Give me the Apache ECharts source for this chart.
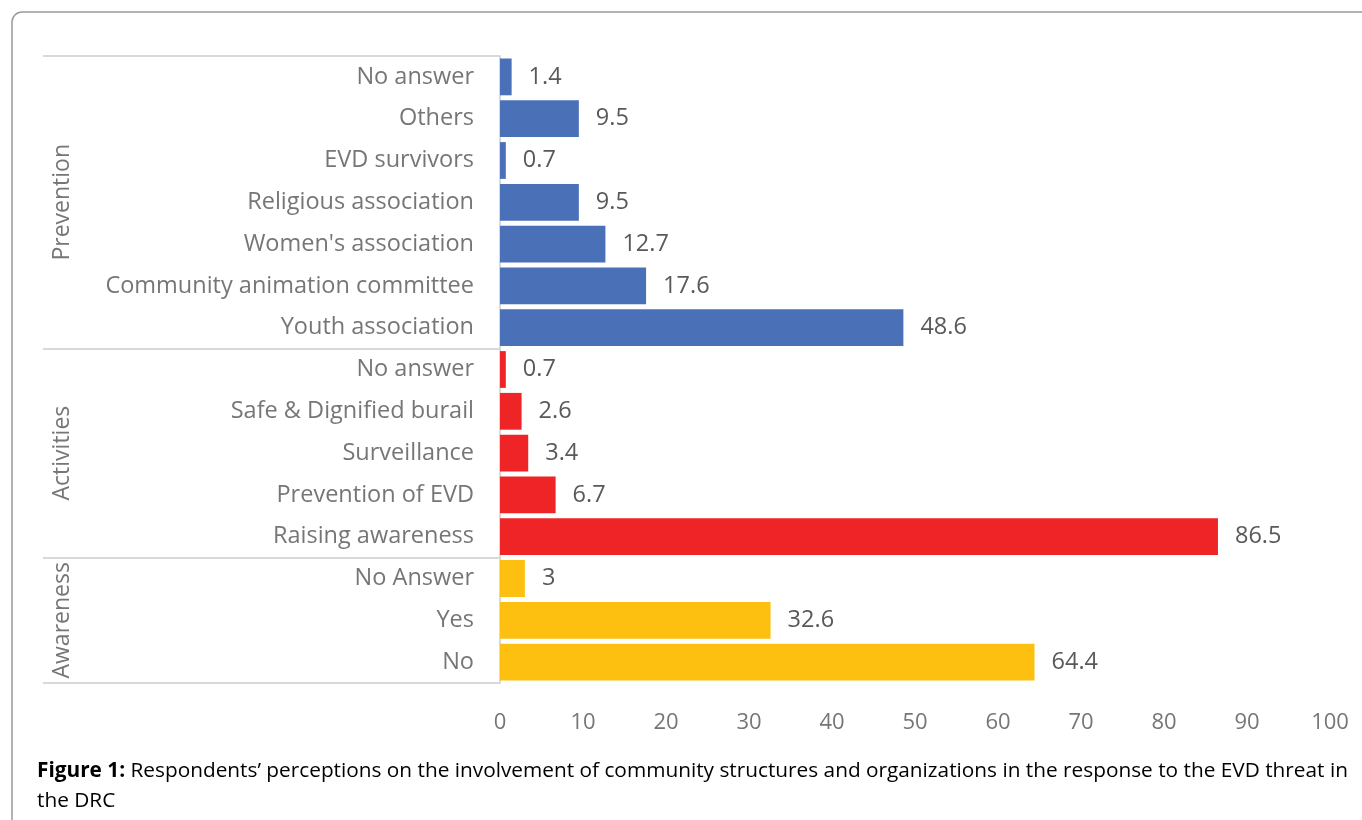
<!DOCTYPE html>
<html>
<head>
<meta charset="utf-8">
<script src="https://cdn.jsdelivr.net/npm/echarts@6/dist/echarts.min.js"></script>
<style>
html,body{margin:0;padding:0;background:#fff;}
#chart{width:1362px;height:820px;}
</style>
</head>
<body>
<div id="chart"></div>
<script>
// ---- Data ----
const groupNames = ['Prevention', 'Activities', 'Awareness'];
const preventionLabels = ['No answer', 'Others', 'EVD survivors', 'Religious association', "Women's association", 'Community animation committee', 'Youth association'];
const preventionValues = [1.4, 9.5, 0.7, 9.5, 12.7, 17.6, 48.6];
const activitiesLabels = ['No answer', 'Safe & Dignified burail', 'Surveillance', 'Prevention of EVD', 'Raising awareness'];
const activitiesValues = [0.7, 2.6, 3.4, 6.7, 86.5];
const awarenessLabels = ['No Answer', 'Yes', 'No'];
const awarenessValues = [3, 32.6, 64.4];
const groupColors = ['#4A70B8', '#EE2427', '#FDC010'];
const xTicks = [0, 10, 20, 30, 40, 50, 60, 70, 80, 90, 100];
const captionBold = 'Figure 1:';
const captionText = ' Respondents\u2019 perceptions on the involvement of community structures and organizations in the response to the EVD threat in';
const captionText2 = 'the DRC';

const groupLabels = [preventionLabels, activitiesLabels, awarenessLabels];
const groupValues = [preventionValues, activitiesValues, awarenessValues];

const categories = [];
const barData = [];
groupLabels.forEach((labels, g) => {
  labels.forEach((lab, i) => {
    categories.push(lab);
    barData.push({ value: groupValues[g][i], itemStyle: { color: groupColors[g] } });
  });
});

const chart = echarts.init(document.getElementById('chart'), null, { renderer: 'canvas' });
const FONT = '"Open Sans", "Noto Sans", sans-serif';
const TXT = '#767676';

chart.setOption({
  animation: false,
  backgroundColor: '#fff',
  textStyle: { fontFamily: FONT },
  grid: { left: 500, right: 32, top: 56, bottom: 137, containLabel: false },
  xAxis: {
    type: 'value', min: 0, max: 100, interval: 10,
    axisLine: { show: false }, axisTick: { show: false }, splitLine: { show: false },
    axisLabel: {
      margin: 29, color: TXT, fontSize: 22, fontFamily: FONT,
      formatter: v => xTicks.includes(v) ? String(v) : ''
    }
  },
  yAxis: {
    type: 'category', data: categories, inverse: true,
    axisLine: { show: true, lineStyle: { color: '#d9d9d9', width: 2 } },
    axisTick: { show: false },
    axisLabel: { margin: 26, color: TXT, fontSize: 23.5, fontFamily: FONT }
  },
  series: [{
    type: 'bar', data: barData, barCategoryGap: '12%',
    label: {
      show: true, position: 'right', distance: 17,
      color: '#595959', fontSize: 23.5, fontFamily: FONT
    }
  }]
});

// Group brackets and labels, positioned via the axis scale
const n = categories.length;
const c0 = chart.convertToPixel({ yAxisIndex: 0 }, 0);
const cN = chart.convertToPixel({ yAxisIndex: 0 }, n - 1);
const band = (cN - c0) / (n - 1);
const axisX = chart.convertToPixel({ xAxisIndex: 0 }, 0);
const edges = [];
let idx = 0;
edges.push(c0 - band / 2);
groupLabels.forEach(l => { idx += l.length; edges.push(c0 + (idx - 1) * band + band / 2); });

const graphics = [];
graphics.push({
  type: 'rect', shape: { x: 12, y: 12, width: 1400, height: 900, r: 10 },
  style: { fill: 'none', stroke: '#9a9a9a', lineWidth: 1.5 }, silent: true, z: -1
});
edges.forEach(y => {
  graphics.push({
    type: 'line', shape: { x1: 43, y1: Math.round(y), x2: axisX, y2: Math.round(y) },
    style: { stroke: '#d9d9d9', lineWidth: 2 }, silent: true
  });
});
groupNames.forEach((name, g) => {
  const mid = (edges[g] + edges[g + 1]) / 2;
  graphics.push({
    type: 'text', x: 62, y: mid, rotation: Math.PI / 2,
    style: { text: name, fill: TXT, font: '23px ' + FONT, align: 'center', verticalAlign: 'middle' },
    silent: true
  });
});
graphics.push({
  type: 'text', x: 37, y: 756,
  style: {
    text: '{b|' + captionBold + '}{r|' + captionText + '}\n{r|' + captionText2 + '}',
    rich: {
      b: { fontWeight: 'bold', fontSize: 20.8, fill: '#000', fontFamily: FONT, lineHeight: 30 },
      r: { fontSize: 20.8, fill: '#000', fontFamily: FONT, lineHeight: 30 }
    },
    verticalAlign: 'top'
  },
  silent: true
});
chart.setOption({ graphic: graphics });
</script>
</body>
</html>
